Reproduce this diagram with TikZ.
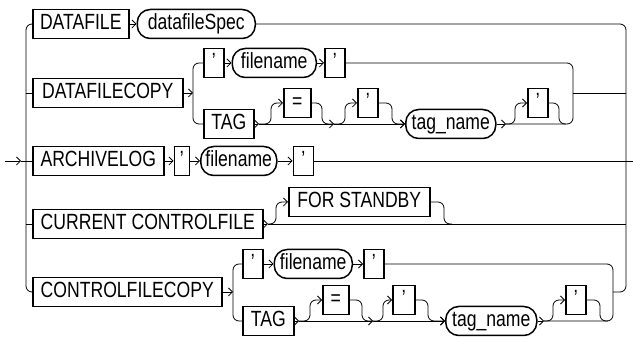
\documentclass[tikz,border=0pt]{standalone}
\usepackage{fontspec}
\setmainfont{Liberation Sans}[FakeStretch=0.8]
\usetikzlibrary{arrows.meta,positioning}

\begin{document}
\begin{tikzpicture}[x=1pt,y=-1pt]
\tikzstyle{keyword}=[rectangle, draw=black, line width=1.5pt, minimum height=29pt, inner xsep=2pt, inner ysep=0pt, text height=14pt, text depth=2pt, font=\fontsize{22pt}{26pt}\selectfont]
\tikzstyle{param}=[keyword, rounded corners=13pt]
\tikzstyle{quot}=[keyword, minimum width=20pt]
\tikzstyle{rail}=[line width=0.8pt, rounded corners=6pt]
\tikzstyle{connect}=[rail, -{Straight Barb[length=4pt,width=8pt]}]
\useasboundingbox (0,0) rectangle (633,339);
  \coordinate (start) at (5,161);
  \coordinate (entry) at (21,161);
  \coordinate (lb) at (26,161);
  \coordinate (rb) at (626,161);
  \coordinate (exit) at (633,161);
  % DATAFILE
  \node[keyword, minimum width=96pt, anchor=west] (datafile) at (32,24) {DATAFILE};
  \node[param, minimum width=118pt] (dfspec) [right=7pt of datafile] {datafileSpec};
  % DATAFILECOPY
  \node[keyword, minimum width=150pt, anchor=west] (dfcopy) at (32,93) {DATAFILECOPY};
  \node[quot, anchor=west] (q1) at (203,63) {'};
  \node[param, minimum width=84pt] (fname1) [right=7pt of q1] {filename};
  \node[quot] (q2) [right=7pt of fname1] {'};
  \node[keyword, minimum width=50pt, anchor=west] (tag1) at (203,124) {TAG};
  \node[quot, minimum width=27pt, anchor=west] (eq1) at (283,103) {=};
  \node[quot, anchor=west] (q3) at (357,103) {'};
  \node[param, minimum width=90pt, anchor=west] (tname1) at (405,124) {tag\_name};
  \node[quot, anchor=west] (q4) at (527,103) {'};
  \coordinate (b2) at (193,93);
  \coordinate (j2) at (573,93);
  \coordinate (f2a) at (259,124);
  \coordinate (r2a) at (334,124);
  \coordinate (f2c) at (506,124);
  \coordinate (m2) at (566,124);
  % ARCHIVELOG
  \node[keyword, minimum width=131pt, anchor=west] (archlog) at (32,161) {ARCHIVELOG};
  \node[quot, minimum width=15pt] (q5) [right=9pt of archlog] {'};
  \node[param, minimum width=76pt] (fname2) [right=10pt of q5] {filename};
  \node[quot] (q6) [right=15pt of fname2] {'};
  % CURRENT CONTROLFILE
  \node[keyword, minimum width=230pt, anchor=west] (curctl) at (32,224) {CURRENT CONTROLFILE};
  \node[keyword, minimum width=141pt, anchor=west] (forsb) at (288,202) {FOR STANDBY};
  \coordinate (f4) at (268,224);
  \coordinate (r4) at (452,224);
  % CONTROLFILECOPY
  \node[keyword, minimum width=189pt, anchor=west] (cfcopy) at (32,292) {CONTROLFILECOPY};
  \node[quot, anchor=west] (q7) at (242,264) {'};
  \node[param, minimum width=78pt] (fname3) [right=10pt of q7] {filename};
  \node[quot] (q8) [right=10pt of fname3] {'};
  \node[keyword, minimum width=51pt, anchor=west] (tag2) at (242,321) {TAG};
  \node[quot, minimum width=26pt, anchor=west] (eq2) at (322,300) {=};
  \node[quot, minimum width=22pt, anchor=west] (q9) at (392,300) {'};
  \node[param, minimum width=91pt, anchor=west] (tname2) at (445,321) {tag\_name};
  \node[quot, anchor=west] (q10) at (565,300) {'};
  \coordinate (b5) at (233,292);
  \coordinate (j5) at (613,292);
  \coordinate (f5a) at (299,321);
  \coordinate (r5a) at (373,321);
  \coordinate (f5c) at (544,321);
  \coordinate (m5) at (608,321);

  \draw[connect] (start) -- (entry);
  \draw[rail] (entry) -- (archlog.west);
  \draw[rail] (datafile.west) -| (lb) |- (cfcopy.west);
  \draw[rail] (dfcopy.west) -- (dfcopy.west -| lb);
  \draw[rail] (curctl.west) -- (curctl.west -| lb);
  \draw[rail] (dfspec.east) -| (rb) |- (j5);
  \draw[rail] (rb) -- (exit);

  \draw[connect] (datafile.east) -- (dfspec.west);

  \draw[connect] (dfcopy.east) -- (b2);
  \draw[rail] (q1.west) -| (b2) |- (tag1.west);
  \draw[connect] (q1.east) -- (fname1.west);
  \draw[connect] (fname1.east) -- (q2.west);
  \draw[rail] (q2.east) -| (j2);
  \draw[connect] (tag1.east) -- (f2a);
  \draw[connect] (f2a) -| ([xshift=-12pt]eq1.west) -- (eq1.west);
  \draw[rail] (eq1.east) -| ([xshift=-12pt]r2a) -- (r2a);
  \draw[connect] (f2a) -- (r2a);
  \draw[connect] (r2a) -| ([xshift=-12pt]q3.west) -- (q3.west);
  \draw[connect] (q3.east) -| ([xshift=-13pt]tname1.west) -- (tname1.west);
  \draw[connect] (r2a) -- (tname1.west);
  \draw[connect] (tname1.east) -- (f2c);
  \draw[connect] (f2c) -| ([xshift=-12pt]q4.west) -- (q4.west);
  \draw[rail] (q4.east) -| ([xshift=-7pt]m2) -- (m2);
  \draw[rail] (f2c) -| (j2);
  \draw[rail] (j2) -- (j2 -| rb);

  \draw[connect] (archlog.east) -- (q5.west);
  \draw[connect] (q5.east) -- (fname2.west);
  \draw[connect] (fname2.east) -- (q6.west);
  \draw[rail] (q6.east) -- (rb);

  \draw[connect] (curctl.east) -- (f4);
  \draw[connect] (f4) -| ([xshift=-12pt]forsb.west) -- (forsb.west);
  \draw[rail] (forsb.east) -| ([xshift=-8pt]r4) -- (r4);
  \draw[rail] (f4) -- (f4 -| rb);

  \draw[connect] (cfcopy.east) -- (b5);
  \draw[rail] (q7.west) -| (b5) |- (tag2.west);
  \draw[connect] (q7.east) -- (fname3.west);
  \draw[connect] (fname3.east) -- (q8.west);
  \draw[rail] (q8.east) -| (j5);
  \draw[connect] (tag2.east) -- (f5a);
  \draw[connect] (f5a) -| ([xshift=-12pt]eq2.west) -- (eq2.west);
  \draw[rail] (eq2.east) -| ([xshift=-11pt]r5a) -- (r5a);
  \draw[connect] (f5a) -- (r5a);
  \draw[connect] (r5a) -| ([xshift=-9pt]q9.west) -- (q9.west);
  \draw[connect] (q9.east) -| ([xshift=-17pt]tname2.west) -- (tname2.west);
  \draw[connect] (r5a) -- (tname2.west);
  \draw[connect] (tname2.east) -- (f5c);
  \draw[connect] (f5c) -| ([xshift=-12pt]q10.west) -- (q10.west);
  \draw[rail] (q10.east) -| ([xshift=-8pt]m5) -- (m5);
  \draw[rail] (f5c) -| (j5);
\end{tikzpicture}
\end{document}
